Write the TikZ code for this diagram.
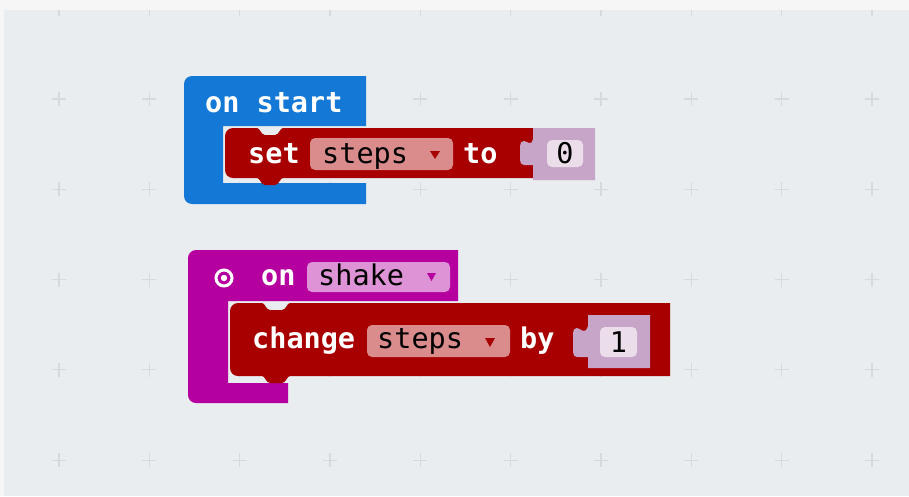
\documentclass[tikz,border=0pt]{standalone}
\usepackage{fontspec}
\setmonofont{DejaVu Sans Mono}
\definecolor{outer}{HTML}{F6F6F6}
\definecolor{board}{HTML}{E9EDF0}
\definecolor{gridc}{HTML}{D6DADD}
\definecolor{hatblue}{HTML}{1478D6}
\definecolor{hatmag}{HTML}{B5009F}
\definecolor{varred}{HTML}{A80000}
\definecolor{varfld}{HTML}{DA8C8C}
\definecolor{magfld}{HTML}{DE93D6}
\definecolor{numblk}{HTML}{C7A5C8}
\definecolor{numfld}{HTML}{EBDEEA}
\begin{document}
\begin{tikzpicture}[x=1pt,y=-1pt,
        lbl/.style={anchor=base west,inner sep=0pt,text=white,
            font=\fontsize{28.5}{30}\selectfont\ttfamily\bfseries},
        fld/.style={anchor=base west,inner sep=0pt,text=black,
            font=\fontsize{28.5}{30}\selectfont\ttfamily},
        num/.style={inner sep=0pt,text=black,
            font=\fontsize{28.5}{30}\selectfont\ttfamily},
        plus/.style={draw=gridc,line width=1.1pt}]
    \fill[outer] (0,0) rectangle (909,496);
    \fill[board] (4,10) rectangle (909,496);
    \begin{scope}
        \clip (4,10) rectangle (909,496);
        \foreach \i in {0,...,9}
            \foreach \j in {0,...,5}
                \draw[plus] ({52+90.33*\i},{8.7+90.3*\j}) -- ++(14,0)
                    ({59+90.33*\i},{1.7+90.3*\j}) -- ++(0,14);
    \end{scope}

    % on start
    \fill[hatblue] (366,126) -- (223,126) -- (223,183) -- (366,183) -- (366,204)
        -- (192,204) .. controls (187.6,204) and (184,200.4) .. (184,196)
        -- (184,84) .. controls (184,79.6) and (187.6,76) .. (192,76) -- (366,76) -- cycle;
    \node[lbl] (start) at (205,112) {on start};
    \fill[varred] (225,136) .. controls (225,131.6) and (228.6,128) .. (233,128) -- (257,128)
        .. controls (260,128) and (261,135) .. (265,135) -- (275,135)
        .. controls (279,135) and (280,128) .. (283,128) -- (533,128) -- (533,178) -- (283,178)
        .. controls (280,178) and (279,185) .. (275,185) -- (265,185)
        .. controls (261,185) and (260,178) .. (257,178) -- (233,178)
        .. controls (228.6,178) and (225,174.4) .. (225,170) -- cycle;
    \node[lbl] (set) at (248,163) {set};
    \fill[varfld,rounded corners=5pt] (310,138) rectangle (453,170);
    \node[fld] (stepsA) at (322,163) {steps};
    \fill[varred] (430,151) -- (440,151) -- (435,159) -- cycle;
    \node[lbl] (to) at (463,163) {to};
    \fill[numblk] (533,128) -- (595,128) -- (595,180) -- (533,180) -- (533,165) -- (524,165)
        .. controls (521.5,165) and (520,163) .. (520,160) -- (520,146)
        .. controls (520,143) and (521.5,141) .. (524,141)
        .. controls (527,141) and (531,147) .. (533,139) -- cycle;
    \fill[numfld,rounded corners=5pt] (547,140) rectangle (583,167);
    \node[num] (zero) at (565,153.5) {0};

    % on shake
    \fill[hatmag] (458,301) -- (228,301) -- (228,383) -- (288,383) -- (288,403)
        -- (196,403) .. controls (191.6,403) and (188,399.4) .. (188,395)
        -- (188,258) .. controls (188,253.6) and (191.6,250) .. (196,250) -- (458,250) -- cycle;
    \draw[white,line width=3pt] (224,278) circle[radius=8];
    \fill[white] (224,278) circle[radius=3.2];
    \node[lbl] (on) at (261,285) {on};
    \fill[magfld,rounded corners=5pt] (307,262) rectangle (450,292);
    \node[fld] (shake) at (318,285) {shake};
    \fill[hatmag] (427,273) -- (436,273) -- (431.5,281) -- cycle;
    \fill[varred] (230,311) .. controls (230,306.6) and (233.6,303) .. (238,303) -- (262,303)
        .. controls (265,303) and (266,310) .. (270,310) -- (282,310)
        .. controls (286,310) and (287,303) .. (290,303) -- (670,303) -- (670,376) -- (290,376)
        .. controls (287,376) and (286,383) .. (282,383) -- (270,383)
        .. controls (266,383) and (265,376) .. (262,376) -- (238,376)
        .. controls (233.6,376) and (230,372.4) .. (230,368) -- cycle;
    \node[lbl] (change) at (252,348) {change};
    \fill[varfld,rounded corners=5pt] (367,325) rectangle (510,357);
    \node[fld] (stepsB) at (377,348) {steps};
    \fill[varred] (485,338) -- (495,338) -- (490,347) -- cycle;
    \node[lbl] (by) at (520,348) {by};
    \fill[numblk] (588,315) -- (650,315) -- (650,368) -- (588,368) -- (588,357) -- (577,357)
        .. controls (574.5,357) and (573,355) .. (573,352) -- (573,333)
        .. controls (573,330) and (574.5,328) .. (577,328)
        .. controls (580,328) and (585,336) .. (588,326) -- cycle;
    \fill[numfld,rounded corners=5pt] (600,327) rectangle (637,357);
    \node[num] (one) at (618.5,342) {1};
\end{tikzpicture}
\end{document}
